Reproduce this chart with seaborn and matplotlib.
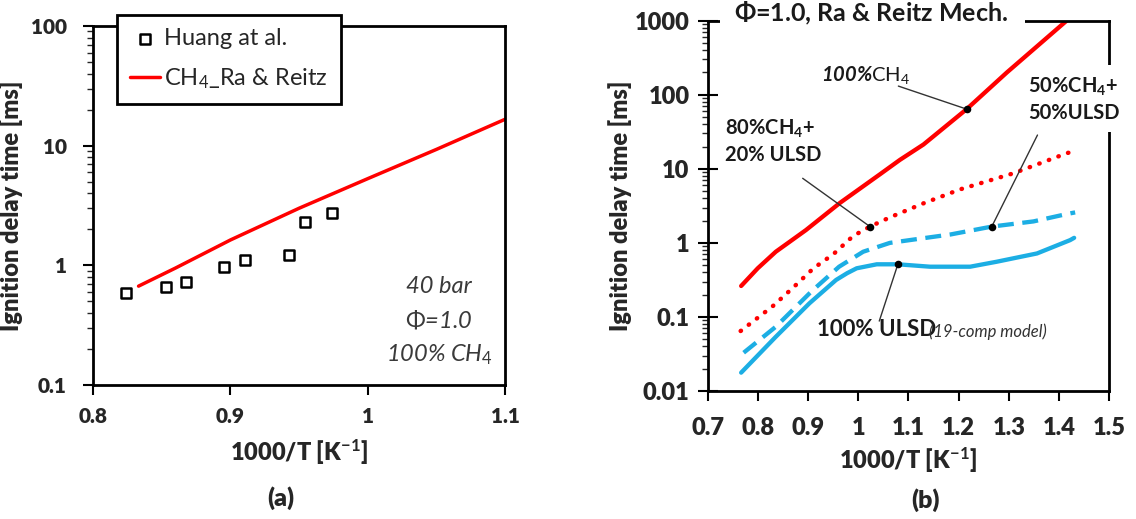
import numpy as np
import pandas as pd
import seaborn as sns
import matplotlib.pyplot as plt
from matplotlib.patches import Rectangle
from matplotlib.ticker import LogLocator, FixedLocator, FuncFormatter, NullFormatter

# (a) 40 bar, phi=1.0, 100% CH4
huang_x = [0.8235, 0.853, 0.8676, 0.8955, 0.9103, 0.9424, 0.9542, 0.9743]
huang_y = [0.59, 0.66, 0.73, 0.975, 1.11, 1.22, 2.32, 2.72]
ra_x = [0.833, 0.86, 0.90, 0.95, 1.00, 1.05, 1.10]
ra_y = [0.67, 0.95, 1.63, 3.0, 5.3, 9.3, 16.6]

# (b) Ra & Reitz mechanism, CH4 / ULSD blends
ch4_x = [0.767, 0.800, 0.836, 0.864, 0.896, 0.964, 1.044, 1.083, 1.130, 1.216, 1.296, 1.415]
ch4_y = [0.262, 0.454, 0.76, 1.04, 1.49, 3.48, 8.5, 13.2, 21.3, 64, 200, 1000]
mix80_x = [0.766, 0.830, 0.871, 0.911, 0.951, 0.990, 1.0235, 1.063, 1.130, 1.203, 1.309, 1.415, 1.432]
mix80_y = [0.0646, 0.14, 0.251, 0.454, 0.708, 1.24, 1.66, 2.21, 3.42, 5.28, 8.7, 16.2, 17.6]
mix50_x = [0.772, 0.836, 0.903, 0.916, 0.962, 1.010, 1.063, 1.123, 1.184, 1.266, 1.349, 1.415, 1.432]
mix50_y = [0.0329, 0.0738, 0.208, 0.251, 0.477, 0.76, 1.0, 1.14, 1.30, 1.66, 1.95, 2.45, 2.58]
ulsd_x = [0.767, 0.836, 0.903, 0.956, 0.978, 0.997, 1.037, 1.079, 1.143, 1.223, 1.276, 1.356, 1.422, 1.43]
ulsd_y = [0.0177, 0.054, 0.153, 0.316, 0.39, 0.454, 0.514, 0.514, 0.477, 0.477, 0.557, 0.72, 1.09, 1.17]

dot_x = [1.216, 1.0235, 1.266, 1.079]
dot_y = [64, 1.66, 1.66, 0.514]

RED = '#FF0000'
BLUE = '#1CAEE4'
TXT = '#1a1a1a'

sns.set_style('ticks')
plt.rcParams['font.family'] = ['Lato', 'DejaVu Sans']
plt.rcParams['mathtext.fontset'] = 'custom'
plt.rcParams['mathtext.rm'] = 'Lato'
plt.rcParams['mathtext.it'] = 'Lato:italic'
plt.rcParams['mathtext.bf'] = 'Lato:bold'
plt.rcParams['mathtext.bfit'] = 'Lato:italic:bold'

fig = plt.figure(figsize=(11.36, 5.19), dpi=100)
ax1 = fig.add_axes([0.0821, 0.2582, 0.3624, 0.6917])
ax2 = fig.add_axes([0.6228, 0.2466, 0.3537, 0.7135])

fmt = FuncFormatter(lambda v, p: f'{v:g}')

# ---------- panel (a) ----------
sns.scatterplot(x=huang_x, y=huang_y, ax=ax1, marker='s', s=50,
                facecolor='white', edgecolor='black', linewidth=1.8,
                label='Huang at al.', zorder=3)
sns.lineplot(x=ra_x, y=ra_y, ax=ax1, color=RED, linewidth=2.5,
             label='CH$_4$_Ra & Reitz')
ax1.set_yscale('log')
ax1.set_xlim(0.8, 1.1)
ax1.set_ylim(0.1, 100)
ax1.xaxis.set_major_locator(FixedLocator([0.8, 0.9, 1.0, 1.1]))
ax1.xaxis.set_major_formatter(fmt)
ax1.yaxis.set_major_locator(FixedLocator([0.1, 1, 10, 100]))
ax1.yaxis.set_major_formatter(fmt)
ax1.yaxis.set_minor_locator(LogLocator(base=10, subs=np.arange(2, 10)))
ax1.yaxis.set_minor_formatter(NullFormatter())
ax1.set_xlabel('1000/T [K$^{\\mathbf{-1}}$]', fontsize=17, fontweight='heavy', labelpad=8)
ax1.set_ylabel('Ignition delay time [ms]', fontsize=17, fontweight='heavy', labelpad=6)
for yy, s in [(0.274, '40 bar'), (0.181, '$\\mathit{\\Phi}$=1.0'), (0.0836, '100% CH$_\\mathit{4}$')]:
    ax1.text(0.840, yy, s, transform=ax1.transAxes, ha='center', va='center',
             fontsize=17, style='italic', color='#3a3a3a')
leg = ax1.legend(loc='upper left', bbox_to_anchor=(0.057, 1.031), frameon=True,
                 fancybox=False, edgecolor='black', fontsize=17, labelspacing=0.75,
                 handlelength=1.3, handletextpad=0.15, borderpad=0.55, borderaxespad=0)
leg.get_frame().set_linewidth(2)
leg.get_frame().set_alpha(1)
fig.text(0.2475, 0.040, '(a)', ha='center', va='center', fontsize=18, fontweight='heavy')

# ---------- panel (b) ----------
sns.lineplot(x=ch4_x, y=ch4_y, ax=ax2, color=RED, linewidth=3.1)
sns.lineplot(x=mix80_x, y=mix80_y, ax=ax2, color=RED, linewidth=3.2,
             linestyle=(0, (0.1, 2.2)), dash_capstyle='round')
sns.lineplot(x=mix50_x, y=mix50_y, ax=ax2, color=BLUE, linewidth=3.1,
             linestyle=(0, (3.7, 2.0)))
sns.lineplot(x=ulsd_x, y=ulsd_y, ax=ax2, color=BLUE, linewidth=3.1)
sns.scatterplot(x=dot_x, y=dot_y, ax=ax2, color='black', s=30, zorder=5, linewidth=0)
ax2.set_yscale('log')
ax2.set_xlim(0.7, 1.5)
ax2.set_ylim(0.01, 1000)
ax2.xaxis.set_major_locator(FixedLocator(np.round(np.arange(0.7, 1.51, 0.1), 1)))
ax2.xaxis.set_major_formatter(fmt)
ax2.yaxis.set_major_locator(FixedLocator([0.01, 0.1, 1, 10, 100, 1000]))
ax2.yaxis.set_major_formatter(fmt)
ax2.yaxis.set_minor_locator(LogLocator(base=10, subs=np.arange(2, 10)))
ax2.yaxis.set_minor_formatter(NullFormatter())
ax2.set_xlabel('1000/T [K$^{\\mathbf{-1}}$]', fontsize=17, fontweight='heavy', labelpad=4)
ax2.set_ylabel('Ignition delay time [ms]', fontsize=17, fontweight='heavy', labelpad=2)

# leader lines from labels to points
line_kw = dict(arrowstyle='-', color='#333333', lw=1, shrinkA=0, shrinkB=0)
ax2.annotate('', xy=(1.216, 64), xytext=(1.080, 131), arrowprops=line_kw)
ax2.annotate('', xy=(1.0235, 1.66), xytext=(0.8895, 7.45), arrowprops=line_kw)
ax2.annotate('', xy=(1.266, 1.66), xytext=(1.357, 28.6), arrowprops=line_kw)
ax2.annotate('', xy=(1.079, 0.514), xytext=(1.042, 0.088), arrowprops=line_kw)

ax2.text(0.926, 185, '$\\mathbfit{100\\%}$CH$_4$', fontsize=14.5, va='center', color=TXT)
ax2.text(0.735, 35.3, '80%CH$_\\mathbf{4}$+', fontsize=14.5, fontweight='bold', va='center', color=TXT)
ax2.text(0.735, 15.4, '20% ULSD', fontsize=14.5, fontweight='bold', va='center', color=TXT)
ax2.text(1.339, 131, '50%CH$_\\mathbf{4}$+', fontsize=14.5, fontweight='bold',
         va='center', ha='left', color=TXT, zorder=10, clip_on=False)
ax2.text(1.339, 56, '50%ULSD', fontsize=14.5, fontweight='bold',
         va='center', ha='left', color=TXT, zorder=10, clip_on=False)
ax2.text(0.9186, 0.0667, '100% ULSD', fontsize=16, fontweight='bold', va='center', color=TXT)
ax2.text(1.141, 0.064, '(19-comp model)', fontsize=12, style='italic', va='center', color='#333333')

# white gaps in the frame behind the title and the 50/50 label
ax2.add_patch(Rectangle((0.031, 0.97), 0.759, 0.06, transform=ax2.transAxes,
                        facecolor='white', edgecolor='none', zorder=4, clip_on=False))
ax2.add_patch(Rectangle((0.97, 0.700), 0.06, 0.180, transform=ax2.transAxes,
                        facecolor='white', edgecolor='none', zorder=4, clip_on=False))
ax2.text(0.066, 1.020, '$\\mathbf{\\Phi}$=1.0, Ra & Reitz Mech.', transform=ax2.transAxes,
         ha='left', va='center', fontsize=18, fontweight='bold', zorder=10, clip_on=False,
         color=TXT)
fig.text(0.8148, 0.0366, '(b)', ha='center', va='center', fontsize=18, fontweight='heavy')

for ax in (ax1, ax2):
    for sp in ax.spines.values():
        sp.set_visible(True)
        sp.set_linewidth(2)
        sp.set_color('black')
    ax.tick_params(axis='both', which='major', direction='out', length=7, width=1.5,
                   labelsize=15, pad=9, color='black')
    ax.tick_params(axis='y', which='minor', direction='out', length=4.5, width=1)
ax1.tick_params(axis='y', which='major', pad=12)
ax2.tick_params(axis='x', which='major', labelsize=17, pad=12)
ax2.tick_params(axis='y', which='major', labelsize=17, direction='inout', length=14, pad=6)
for ax in (ax1, ax2):
    for lab in ax.get_xticklabels() + ax.get_yticklabels():
        lab.set_fontweight('heavy')

fig.savefig('out.png', dpi=100)
